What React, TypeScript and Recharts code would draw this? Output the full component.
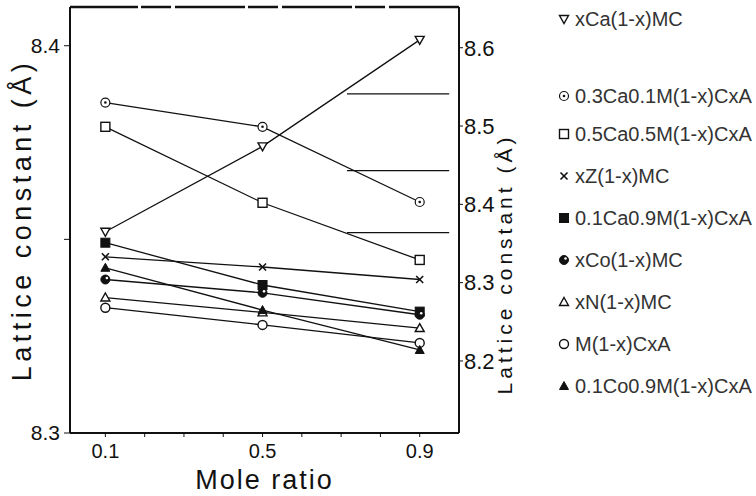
import React from 'react';
import { LineChart, Line, XAxis, YAxis, ReferenceLine, Legend } from 'recharts';

// mole ratio x
const moleRatio = [0.1, 0.5, 0.9];

// lattice constant (Å), read against the right-hand scale
const caMC = [8.365, 8.474, 8.61];
const ca03 = [8.53, 8.499, 8.403];
const ca05 = [8.499, 8.402, 8.329];
const znMC = [8.333, 8.32, 8.304];
const ca01 = [8.351, 8.297, 8.263];
const coMC = [8.304, 8.287, 8.259];
const niMC = [8.281, 8.262, 8.242];
const mCxA = [8.268, 8.246, 8.223];
const co01 = [8.319, 8.265, 8.214];

const xTicks = [0.1, 0.2, 0.3, 0.4, 0.5, 0.6, 0.7, 0.8, 0.9];
const xLabelTicks = [0.1, 0.5, 0.9];
const leftTicks = [8.3, 8.35, 8.4];
const rightTicks = [8.2, 8.3, 8.4, 8.5, 8.6];
const rightDomain = [8.108, 8.652];

// short horizontal pointer lines near the right axis
const pointerLevels = [8.541, 8.443, 8.364];
const pointerSpan = [0.715, 0.975];

const series = [
    { key: 'caMC', name: 'xCa(1-x)MC', values: caMC, shape: 'triDown' },
    { key: 'ca03', name: '0.3Ca0.1M(1-x)CxA', values: ca03, shape: 'circleDot' },
    { key: 'ca05', name: '0.5Ca0.5M(1-x)CxA', values: ca05, shape: 'square' },
    { key: 'znMC', name: 'xZ(1-x)MC', values: znMC, shape: 'cross' },
    { key: 'ca01', name: '0.1Ca0.9M(1-x)CxA', values: ca01, shape: 'squareFilled' },
    { key: 'coMC', name: 'xCo(1-x)MC', values: coMC, shape: 'circleHalf' },
    { key: 'niMC', name: 'xN(1-x)MC', values: niMC, shape: 'tri' },
    { key: 'mCxA', name: 'M(1-x)CxA', values: mCxA, shape: 'circle' },
    { key: 'co01', name: '0.1Co0.9M(1-x)CxA', values: co01, shape: 'triFilled' },
];

const data = moleRatio.map((x, i) => {
    const row: any = { x };
    series.forEach((s) => {
        row[s.key] = s.values[i];
    });
    return row;
});

const INK = '#111';
const FONT = '"Liberation Sans", Arial, sans-serif';

const Marker = ({ shape, cx, cy }: { shape: string; cx: number; cy: number }) => {
    const r = 4.5;
    switch (shape) {
        case 'triDown':
            return (
                <polygon
                    points={`${cx - r},${cy - r + 1} ${cx + r},${cy - r + 1} ${cx},${cy + r}`}
                    fill="#fff"
                    stroke={INK}
                    strokeWidth={1.4}
                />
            );
        case 'circleDot':
            return (
                <g>
                    <circle cx={cx} cy={cy} r={r} fill="#fff" stroke={INK} strokeWidth={1.2} />
                    <circle cx={cx} cy={cy} r={1.3} fill={INK} />
                </g>
            );
        case 'square':
            return <rect x={cx - r} y={cy - r} width={2 * r} height={2 * r} fill="#fff" stroke={INK} strokeWidth={1.4} />;
        case 'cross':
            return (
                <g stroke={INK} strokeWidth={1.6}>
                    <line x1={cx - r + 1} y1={cy - r + 1} x2={cx + r - 1} y2={cy + r - 1} />
                    <line x1={cx + r - 1} y1={cy - r + 1} x2={cx - r + 1} y2={cy + r - 1} />
                </g>
            );
        case 'squareFilled':
            return <rect x={cx - r} y={cy - r} width={2 * r} height={2 * r} fill={INK} stroke={INK} />;
        case 'circleHalf':
            return (
                <g>
                    <circle cx={cx} cy={cy} r={r} fill={INK} stroke={INK} />
                    <circle cx={cx + 1.5} cy={cy - 1.5} r={1.3} fill="#fff" />
                </g>
            );
        case 'tri':
            return (
                <polygon
                    points={`${cx},${cy - r} ${cx + r},${cy + r - 1} ${cx - r},${cy + r - 1}`}
                    fill="#fff"
                    stroke={INK}
                    strokeWidth={1.4}
                />
            );
        case 'circle':
            return <circle cx={cx} cy={cy} r={r} fill="#fff" stroke={INK} strokeWidth={1.4} />;
        case 'triFilled':
            return (
                <polygon
                    points={`${cx},${cy - r} ${cx + r},${cy + r - 1} ${cx - r},${cy + r - 1}`}
                    fill={INK}
                    stroke={INK}
                />
            );
        default:
            return null;
    }
};

const makeDot = (shape: string) => (props: any) => (
    <Marker key={`${shape}-${props.index}`} shape={shape} cx={props.cx} cy={props.cy} />
);

// legend on the right, drawn from the series list
const renderLegend = () => (
    <div style={{ fontFamily: FONT, fontSize: 20, color: '#333' }}>
        {series.map((s, i) => (
            <div
                key={s.key}
                style={{
                    display: 'flex',
                    alignItems: 'center',
                    height: i === 1 ? 34 : 42,
                    marginBottom: i === 0 ? 39 : 0,
                    whiteSpace: 'nowrap',
                }}
            >
                <svg width={14} height={14} style={{ marginRight: 4 }}>
                    <Marker shape={s.shape} cx={7} cy={7} />
                </svg>
                <span>{s.name}</span>
            </div>
        ))}
    </div>
);

const leftLabel = (props: any) => {
    const { viewBox } = props;
    const x = viewBox.x + 24;
    const y = viewBox.y + viewBox.height / 2;
    return (
        <text
            x={x}
            y={y}
            transform={`rotate(-90, ${x}, ${y})`}
            textAnchor="middle"
            dominantBaseline="middle"
            fontFamily={FONT}
            fontSize={27}
            letterSpacing={4.5}
            fill={INK}
        >
            Lattice  constant (Å)
        </text>
    );
};

const rightLabel = (props: any) => {
    const { viewBox } = props;
    const x = viewBox.x + 47;
    const y = viewBox.y + viewBox.height / 2 + 44;
    return (
        <text
            x={x}
            y={y}
            transform={`rotate(-90, ${x}, ${y})`}
            textAnchor="middle"
            dominantBaseline="middle"
            fontFamily={FONT}
            fontSize={21}
            letterSpacing={4}
            fill={INK}
        >
            Lattice  constant (Å)
        </text>
    );
};

export default function App() {
    const tickStyle = { fontFamily: FONT, fontSize: 20, fill: INK };
    return (
        <div style={{ position: 'absolute', left: 0, top: 0, width: 756, height: 496, background: '#fff' }}>
            <LineChart width={756} height={496} data={data} margin={{ top: 7, right: 237, bottom: 0, left: 0 }}>
                <XAxis
                    dataKey="x"
                    type="number"
                    domain={[0.01, 1.0]}
                    ticks={xTicks}
                    tickFormatter={(v: number) => (xLabelTicks.some((t) => Math.abs(t - v) < 1e-6) ? v.toFixed(1) : '')}
                    tick={tickStyle}
                    tickSize={4}
                    tickMargin={7}
                    height={63}
                    axisLine={{ stroke: INK, strokeWidth: 2 }}
                    tickLine={{ stroke: INK }}
                    allowDataOverflow
                    label={{
                        value: 'Mole  ratio',
                        position: 'insideBottom',
                        offset: 7,
                        style: { fontFamily: FONT, fontSize: 27, letterSpacing: 2, fill: INK },
                    }}
                />
                <YAxis
                    yAxisId="L"
                    type="number"
                    domain={[8.3, 8.41]}
                    ticks={leftTicks}
                    tickFormatter={(v: number) => (Math.abs(v - 8.35) < 1e-6 ? '' : v.toFixed(1))}
                    tick={{ ...tickStyle, fontSize: 21 }}
                    tickSize={6}
                    tickMargin={4}
                    width={70}
                    axisLine={{ stroke: INK, strokeWidth: 2 }}
                    tickLine={{ stroke: INK }}
                    allowDataOverflow
                    label={leftLabel}
                />
                <YAxis
                    yAxisId="R"
                    orientation="right"
                    type="number"
                    domain={rightDomain}
                    ticks={rightTicks}
                    tickFormatter={(v: number) => v.toFixed(1)}
                    tick={{ ...tickStyle, fontSize: 22 }}
                    tickSize={4}
                    tickMargin={1}
                    width={60}
                    axisLine={{ stroke: INK, strokeWidth: 2 }}
                    tickLine={{ stroke: INK }}
                    allowDataOverflow
                    label={rightLabel}
                />
                <ReferenceLine
                    yAxisId="R"
                    y={rightDomain[1]}
                    stroke={INK}
                    strokeWidth={2.5}
                    strokeDasharray="70 4 30 3"
                />
                {pointerLevels.map((lv) => (
                    <ReferenceLine
                        key={`ptr-${lv}`}
                        yAxisId="R"
                        segment={[
                            { x: pointerSpan[0], y: lv },
                            { x: pointerSpan[1], y: lv },
                        ]}
                        stroke={INK}
                        strokeWidth={1.3}
                    />
                ))}
                {series.map((s) => (
                    <Line
                        key={s.key}
                        yAxisId="R"
                        dataKey={s.key}
                        name={s.name}
                        stroke={INK}
                        strokeWidth={1.3}
                        dot={makeDot(s.shape)}
                        activeDot={false}
                        isAnimationActive={false}
                    />
                ))}
                <Legend
                    layout="vertical"
                    align="center"
                    verticalAlign="middle"
                    content={renderLegend}
                    wrapperStyle={{ left: 557, top: -2, width: 200 }}
                />
            </LineChart>
        </div>
    );
}
